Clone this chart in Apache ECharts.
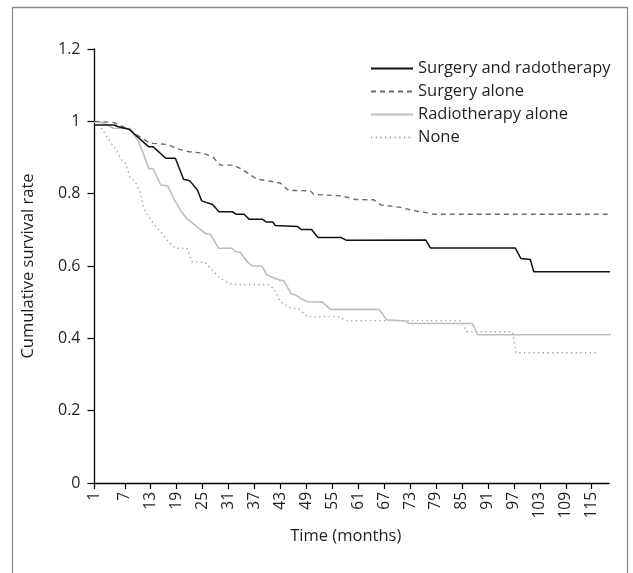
<!DOCTYPE html>
<html>
<head>
<meta charset="utf-8">
<script src="https://cdn.jsdelivr.net/npm/echarts@6/dist/echarts.min.js"></script>
<style>
html,body{margin:0;padding:0;background:#fff;}
#chart{width:633px;height:573px;}
</style>
</head>
<body>
<div id="chart"></div>
<script>
// ---- Data ----
const seriesNames = ['Surgery and radotherapy', 'Surgery alone', 'Radiotherapy alone', 'None'];

const bothMonths = [0, 4.5, 5.5, 8.0, 12.5, 13.5, 16.5, 18.7, 20.6, 22.0, 23.8, 24.8, 27.3, 28.8, 31.9, 32.8, 34.6, 35.8, 38.9, 39.7, 41.2, 41.8, 47.0, 47.8, 50.2, 51.7, 57.0, 58.3, 76.6, 77.7, 97.3, 98.6, 100.8, 101.6, 119.7];
const bothRates  = [0.99, 0.99, 0.985, 0.978, 0.93, 0.93, 0.898, 0.898, 0.84, 0.836, 0.81, 0.78, 0.77, 0.75, 0.75, 0.743, 0.743, 0.729, 0.729, 0.722, 0.722, 0.712, 0.709, 0.701, 0.701, 0.679, 0.679, 0.671, 0.672, 0.65, 0.65, 0.621, 0.618, 0.584, 0.584];

const surgMonths = [0, 4.4, 8.2, 10.5, 12.5, 13.6, 16.9, 19.5, 21.9, 25.2, 27.5, 29.1, 32.2, 33.7, 35.3, 37.6, 39.9, 43.0, 44.9, 49.9, 50.7, 56.9, 57.7, 60.4, 64.6, 66.2, 70.8, 73.9, 77.0, 78.5, 118.7];
const surgRates  = [1.0, 0.997, 0.976, 0.957, 0.942, 0.939, 0.936, 0.923, 0.916, 0.912, 0.9, 0.879, 0.879, 0.87, 0.858, 0.84, 0.836, 0.829, 0.809, 0.808, 0.798, 0.794, 0.792, 0.784, 0.783, 0.769, 0.762, 0.753, 0.747, 0.743, 0.743];

const radioMonths = [0, 1.8, 4.4, 8.2, 10.2, 11.3, 12.5, 13.6, 15.3, 16.9, 18.3, 19.8, 21.3, 25.6, 26.8, 28.7, 31.8, 32.6, 33.7, 35.3, 36.4, 38.7, 39.9, 41.1, 42.8, 43.8, 45.5, 46.5, 47.6, 49.2, 52.7, 54.6, 65.8, 67.6, 72.0, 72.7, 87.4, 88.6, 119.7];
const radioRates  = [0.999, 0.997, 0.981, 0.98, 0.944, 0.911, 0.87, 0.868, 0.824, 0.822, 0.787, 0.755, 0.732, 0.69, 0.688, 0.649, 0.649, 0.64, 0.638, 0.612, 0.6, 0.6, 0.575, 0.569, 0.561, 0.559, 0.523, 0.52, 0.511, 0.501, 0.5, 0.48, 0.48, 0.451, 0.448, 0.441, 0.441, 0.41, 0.41];

const noneMonths = [0, 1.3, 2.4, 3.6, 4.8, 6.3, 7.1, 8.2, 9.4, 10.5, 11.3, 12.5, 14.0, 15.6, 17.1, 18.7, 21.4, 22.5, 25.6, 26.8, 28.3, 29.8, 31.8, 40.3, 41.4, 42.2, 43.0, 45.3, 47.2, 49.2, 56.5, 58.1, 84.7, 85.5, 86.1, 96.7, 97.5, 116.0];
const noneRates  = [1.0, 0.985, 0.967, 0.944, 0.925, 0.893, 0.884, 0.847, 0.833, 0.805, 0.764, 0.736, 0.713, 0.69, 0.667, 0.649, 0.649, 0.612, 0.61, 0.594, 0.575, 0.561, 0.549, 0.549, 0.538, 0.52, 0.501, 0.485, 0.482, 0.46, 0.46, 0.449, 0.449, 0.432, 0.418, 0.418, 0.36, 0.36];

// x tick labels; the first label ("1") sits at the axis origin in the reference
const xTickLabels = ['1', '7', '13', '19', '25', '31', '37', '43', '49', '55', '61', '67', '73', '79', '85', '91', '97', '103', '109', '115'];
const xTickValues = [0, 7, 13, 19, 25, 31, 37, 43, 49, 55, 61, 67, 73, 79, 85, 91, 97, 103, 109, 115];
const yTickLabels = ['0', '0.2', '0.4', '0.6', '0.8', '1', '1.2'];

function pairs(xs, ys) { return xs.map((x, i) => [x, ys[i]]); }

const FONT = '"Open Sans", "Noto Sans", sans-serif';
const TXT = '#231f20';

const chart = echarts.init(document.getElementById('chart'), null, {renderer: 'canvas'});

const styles = [
  {color: '#111111', width: 1.5, type: 'solid'},
  {color: '#6a6a6a', width: 1.4, type: [5, 4]},
  {color: '#bdbdbd', width: 1.6, type: 'solid'},
  {color: '#9a9a9a', width: 1.4, type: [1.2, 3.5]}
];
const allData = [pairs(bothMonths, bothRates), pairs(surgMonths, surgRates), pairs(radioMonths, radioRates), pairs(noneMonths, noneRates)];

chart.setOption({
  animation: false,
  backgroundColor: '#ffffff',
  graphic: [{
    type: 'rect', z: -1, silent: true,
    shape: {x: 12.5, y: 7.5, width: 615, height: 620},
    style: {fill: 'none', stroke: '#8a8a8a', lineWidth: 1.3}
  }],
  grid: {left: 94.5, right: 24, top: 49, bottom: 90, containLabel: false},
  legend: {
    show: true,
    orient: 'vertical', left: 365, top: 55,
    itemWidth: 42, itemHeight: 14, itemGap: 6,
    data: seriesNames,
    itemStyle: {opacity: 0},
    textStyle: {fontFamily: FONT, fontSize: 16.5, color: TXT}
  },
  xAxis: {
    type: 'value', min: 0, max: 119,
    name: 'Time (months)', nameLocation: 'middle', nameGap: 45,
    nameTextStyle: {fontFamily: FONT, fontSize: 16.5, color: TXT, padding: [0, 12, 0, 0]},
    axisLine: {show: true, onZero: false, lineStyle: {color: '#000', width: 1.3}},
    axisTick: {show: true, length: 6, customValues: xTickValues, lineStyle: {color: '#000', width: 1.2}},
    axisLabel: {
      rotate: 90, margin: 9, fontFamily: FONT, fontSize: 15.5, color: TXT,
      customValues: xTickValues,
      formatter: v => xTickLabels[xTickValues.indexOf(v)]
    },
    splitLine: {show: false}
  },
  yAxis: {
    type: 'value', min: 0, max: 1.2, interval: 0.2,
    name: 'Cumulative survival rate', nameLocation: 'middle', nameGap: 58,
    nameTextStyle: {fontFamily: FONT, fontSize: 16.5, color: TXT},
    axisLine: {show: true, lineStyle: {color: '#000', width: 1.3}},
    axisTick: {show: true, length: 7, lineStyle: {color: '#000', width: 1.2}},
    axisLabel: {
      margin: 14, fontFamily: FONT, fontSize: 16, color: TXT,
      formatter: (v) => yTickLabels[Math.round(v / 0.2)]
    },
    splitLine: {show: false}
  },
  series: seriesNames.map((name, i) => ({
    name: name, type: 'line', data: allData[i],
    showSymbol: false, symbol: 'none', clip: false,
    lineStyle: {color: styles[i].color, width: styles[i].width, type: styles[i].type},
    itemStyle: {color: styles[i].color},
    z: 4 - i
  }))
});
</script>
</body>
</html>
